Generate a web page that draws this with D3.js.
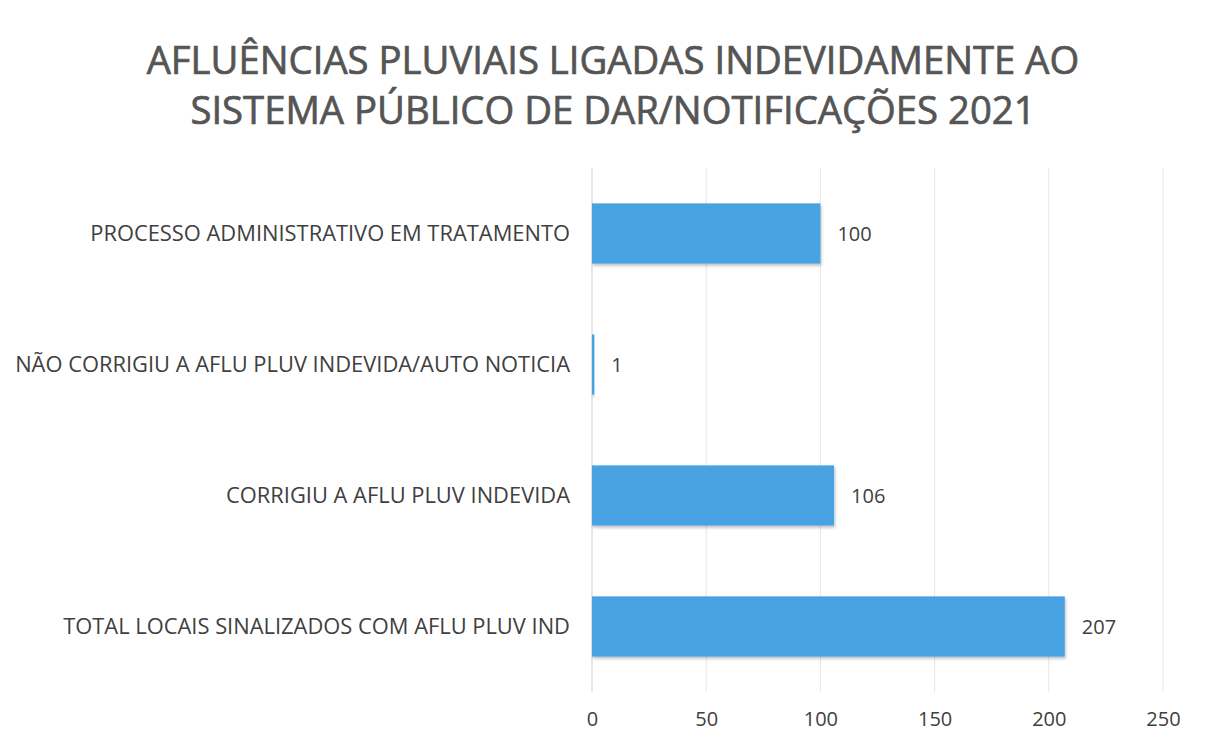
<!DOCTYPE html>
<html>
<head>
<meta charset="utf-8">
<script src="https://cdn.jsdelivr.net/npm/d3@7"></script>
<style>
  body { margin: 0; background: #fff; }
  text { font-family: "Open Sans", "Noto Sans", sans-serif; }
</style>
</head>
<body>
<div id="chart"></div>
<script>
// data
var categories = [
  "PROCESSO ADMINISTRATIVO EM TRATAMENTO",
  "NÃO CORRIGIU A AFLU PLUV INDEVIDA/AUTO NOTICIA",
  "CORRIGIU A AFLU PLUV INDEVIDA",
  "TOTAL LOCAIS SINALIZADOS COM AFLU PLUV IND"
];
var values = [100, 1, 106, 207];
var xTicks = [0, 50, 100, 150, 200, 250];
var titleLines = [
  "AFLUÊNCIAS PLUVIAIS LIGADAS INDEVIDAMENTE AO",
  "SISTEMA PÚBLICO DE DAR/NOTIFICAÇÕES 2021"
];

var W = 1208, H = 749;
var margin = {top: 168, right: 45, bottom: 57, left: 592};
var width = W - margin.left - margin.right,
    height = H - margin.top - margin.bottom;

var svg = d3.select("#chart")
  .append("svg")
    .attr("width", W)
    .attr("height", H);

// title
var title = svg.append("g");
title.selectAll("text")
  .data(titleLines)
  .enter().append("text")
    .attr("x", 613)
    .attr("y", function(d, i) { return 74 + i * 50; })
    .attr("text-anchor", "middle")
    .style("font-size", "34px")
    .style("fill", "#555")
    .style("stroke", "#555")
    .style("stroke-width", 0.7)
    .text(function(d) { return d; });
// fit first line to ~933px width like the original
var firstLen = title.select("text").node().getComputedTextLength();
var fs = 34 * 933 / firstLen;
title.selectAll("text").style("font-size", fs + "px");

var g = svg.append("g")
  .attr("transform", "translate(" + margin.left + "," + margin.top + ")");

var x = d3.scaleLinear()
  .domain([0, 250])
  .range([0, 571]);

var y = d3.scaleBand()
  .domain(categories)
  .range([0, height])
  .paddingInner(0.54)
  .paddingOuter(0.27);

// gridlines
g.selectAll(".grid")
  .data(xTicks)
  .enter().append("line")
    .attr("x1", function(d) { return x(d); })
    .attr("x2", function(d) { return x(d); })
    .attr("y1", 0)
    .attr("y2", height)
    .attr("stroke", function(d) { return d === 0 ? "#cfcfcf" : "#e6e6e6"; })
    .attr("stroke-width", 1);

// x axis labels (no axis line)
var xAxis = g.append("g")
  .attr("transform", "translate(0," + height + ")")
  .call(d3.axisBottom(x).tickValues(xTicks).tickSize(0).tickPadding(20));
xAxis.select(".domain").remove();
xAxis.selectAll("text")
  .style("font-size", "20px")
  .style("font-family", "'Open Sans', sans-serif")
  .style("fill", "#404040");

// shadow
var defs = svg.append("defs");
var f = defs.append("filter").attr("id", "shadow").attr("x", "-5%").attr("y", "-20%").attr("width", "110%").attr("height", "150%");
f.append("feDropShadow").attr("dx", 1).attr("dy", 2).attr("stdDeviation", 1.5)
  .attr("flood-color", "#000").attr("flood-opacity", 0.25);

// bars
g.selectAll(".bar")
  .data(values)
  .enter().append("rect")
    .attr("x", x(0))
    .attr("y", function(d, i) { return y(categories[i]); })
    .attr("width", function(d) { return x(d) - x(0); })
    .attr("height", y.bandwidth())
    .attr("fill", "#4aa3e2")
    .attr("filter", "url(#shadow)");

// value labels
g.selectAll(".val")
  .data(values)
  .enter().append("text")
    .attr("x", function(d) { return x(d) + 17; })
    .attr("y", function(d, i) { return y(categories[i]) + y.bandwidth() / 2; })
    .attr("dy", "0.35em")
    .style("font-size", "20px")
    .style("fill", "#404040")
    .text(function(d) { return d; });

// category labels
var cats = g.selectAll(".cat")
  .data(categories)
  .enter().append("text")
    .attr("x", -22)
    .attr("y", function(d) { return y(d) + y.bandwidth() / 2; })
    .attr("dy", "0.35em")
    .attr("text-anchor", "end")
    .style("font-size", "17px")
    .style("fill", "#404040")
    .text(function(d) { return d; });
// longest label spans about 555px in the original
var longest = d3.max(cats.nodes(), function(n) { return n.getComputedTextLength(); });
cats.style("font-size", (17 * 555 / longest) + "px");
</script>
</body>
</html>
